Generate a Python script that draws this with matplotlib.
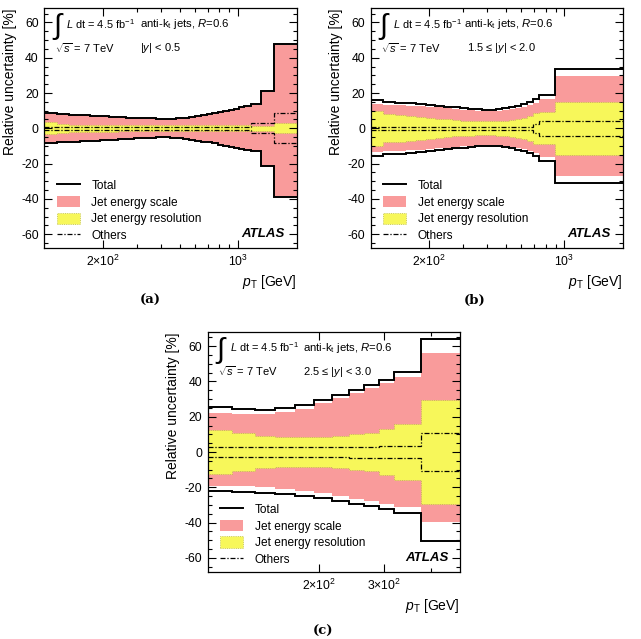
import numpy as np
import matplotlib.pyplot as plt
from matplotlib.ticker import FixedLocator, FixedFormatter, MultipleLocator, NullFormatter
from matplotlib.lines import Line2D
from matplotlib.patches import Patch

plt.rcParams['font.family'] = ['Liberation Sans', 'DejaVu Sans']
plt.rcParams['mathtext.fontset'] = 'custom'
plt.rcParams['mathtext.rm'] = 'Liberation Sans'
plt.rcParams['mathtext.it'] = 'Liberation Sans:italic'
plt.rcParams['mathtext.bf'] = 'Liberation Sans:bold'
plt.rcParams['axes.unicode_minus'] = False

PINK = '#f99b9b'
YELLOW = '#f7f75a'
DASHDOT = (0, (4, 1.5, 1, 1.5))

# ---- panel (a): |y| < 0.5 ----
edges_a = [100, 116, 134, 152, 172, 194, 216, 240, 264, 290, 318, 346, 376, 408, 442, 478,
           516, 556, 598, 642, 688, 736, 786, 838, 894, 952, 1012, 1076, 1162, 1310, 1530, 2000]
tot_up_a = [8.8, 8.2, 7.8, 7.5, 7.2, 6.9, 6.6, 6.3, 6.1, 5.9, 5.7, 5.6, 5.5, 5.5, 5.5, 5.7,
            6.0, 6.5, 7.0, 7.6, 8.2, 8.8, 9.4, 10.0, 10.6, 11.2, 11.8, 12.6, 13.6, 21.0, 47.5]
tot_dn_a = [-8.6, -8.0, -7.6, -7.3, -7.0, -6.7, -6.4, -6.1, -5.8, -5.6, -5.4, -5.3, -5.2, -5.2, -5.3, -5.6,
            -6.0, -6.5, -7.0, -7.5, -8.0, -8.6, -9.2, -9.8, -10.4, -11.0, -11.6, -12.3, -12.8, -21.5, -39.0]
jes_up_a = [8.5, 7.9, 7.6, 7.3, 7.0, 6.7, 6.4, 6.1, 5.9, 5.7, 5.5, 5.4, 5.3, 5.3, 5.3, 5.5,
            5.8, 6.3, 6.8, 7.4, 8.0, 8.6, 9.2, 9.8, 10.4, 11.0, 11.6, 12.4, 13.4, 20.8, 47.0]
jes_dn_a = [-8.3, -7.8, -7.4, -7.1, -6.8, -6.5, -6.2, -5.9, -5.6, -5.4, -5.2, -5.1, -5.0, -5.0, -5.1, -5.4,
            -5.8, -6.3, -6.8, -7.3, -7.8, -8.4, -9.0, -9.6, -10.2, -10.8, -11.4, -12.1, -12.6, -21.3, -38.5]
jer_a = [3.3, 2.4, 2.1, 2.0, 2.0, 1.9, 1.9, 1.8, 1.8, 1.8, 1.8, 1.8, 1.8, 1.8, 1.8, 1.8,
         1.8, 1.8, 1.8, 1.8, 1.8, 1.8, 1.8, 1.8, 1.8, 1.8, 1.8, 1.8, 1.3, 1.3, 2.8]
oth_up_a = [0.7] * 28 + [2.8, 2.8, 8.6]
oth_dn_a = [-0.7] * 28 + [-2.6, -2.6, -8.5]

# ---- panel (b): 1.5 <= |y| < 2.0 ----
edges_b = [100, 116, 134, 152, 172, 194, 216, 240, 264, 290, 318, 346, 376, 408, 442, 478,
           516, 556, 598, 642, 688, 736, 894, 2000]
tot_up_b = [16.0, 15.0, 14.6, 14.2, 13.8, 13.3, 12.8, 12.3, 11.8, 11.4, 11.0, 10.7, 10.6, 10.6, 10.8, 11.3,
            12.0, 12.8, 13.6, 14.8, 16.4, 18.8, 33.8]
tot_dn_b = [-15.5, -14.8, -14.3, -13.8, -13.3, -12.8, -12.3, -11.8, -11.3, -10.9, -10.5, -10.2, -10.0, -10.0, -10.2, -10.7,
            -11.4, -12.2, -13.0, -14.2, -15.8, -18.7, -31.0]
jes_up_b = [13.5, 13.2, 13.0, 12.8, 12.5, 12.2, 11.8, 11.4, 11.0, 10.6, 10.2, 9.9, 9.8, 9.8, 10.0, 10.4,
            11.0, 11.6, 12.2, 13.2, 14.5, 16.5, 29.8]
jes_dn_b = [-13.3, -13.0, -12.7, -12.4, -12.1, -11.8, -11.4, -11.0, -10.6, -10.2, -9.8, -9.5, -9.3, -9.3, -9.5, -9.9,
            -10.5, -11.1, -11.8, -12.8, -14.2, -16.3, -26.8]
jer_b = [9.8, 8.0, 7.5, 7.0, 6.5, 6.0, 5.5, 5.0, 4.6, 4.3, 4.1, 4.0, 4.0, 4.0, 4.1, 4.4,
         4.8, 5.3, 6.0, 7.0, 8.8, 9.0, 15.0]
oth_up_b = [0.8] * 20 + [2.5, 4.2, 4.4]
oth_dn_b = [-0.8] * 20 + [-2.5, -4.2, -4.5]

# ---- panel (c): 2.5 <= |y| < 3.0 ----
edges_c = [100, 116, 134, 152, 172, 194, 216, 240, 264, 290, 318, 376, 480]
tot_up_c = [25.4, 24.5, 23.9, 24.8, 26.8, 29.2, 32.1, 35.3, 38.2, 41.0, 45.3, 64.0]
tot_dn_c = [-22.0, -22.6, -23.2, -23.9, -24.9, -25.8, -27.7, -29.3, -30.6, -32.5, -34.8, -50.3]
jes_up_c = [22.0, 21.8, 21.5, 22.5, 24.5, 27.5, 30.5, 33.5, 36.5, 39.0, 42.5, 56.0]
jes_dn_c = [-19.0, -19.5, -20.0, -21.0, -22.0, -23.5, -25.0, -26.5, -28.0, -29.5, -31.0, -39.5]
jer_c = [12.3, 11.0, 9.3, 8.5, 8.3, 8.7, 9.3, 10.0, 10.8, 13.0, 16.0, 29.5]
oth_up_c = [2.6, 2.6, 2.6, 2.6, 2.7, 2.8, 2.9, 3.0, 3.1, 3.3, 3.6, 10.5]
oth_dn_c = [-2.9, -2.9, -2.9, -2.9, -3.0, -3.0, -3.1, -3.2, -3.3, -3.4, -3.6, -10.5]

rap_labels = [r'$|y|$ < 0.5', r'1.5 ≤ $|y|$ < 2.0', r'2.5 ≤ $|y|$ < 3.0']


def draw_panel(ax, edges, tot_up, tot_dn, jes_up, jes_dn, jer, oth_up, oth_dn,
               rap, xmax, major, major_labels, minor, txt_x, rap_x):
    edges = np.array(edges, float)
    jer = np.array(jer)
    ax.stairs(jes_up, edges, baseline=jes_dn, fill=True, facecolor=PINK, edgecolor='none', lw=0)
    ax.stairs(jer, edges, baseline=-jer, fill=True, facecolor=YELLOW,
              edgecolor='#b9b94a', lw=0.6, ls=':')
    ax.stairs(oth_up, edges, baseline=None, color='k', lw=0.9, ls=DASHDOT)
    ax.stairs(oth_dn, edges, baseline=None, color='k', lw=0.9, ls=DASHDOT)
    ax.stairs(tot_up, edges, baseline=None, color='k', lw=1.4)
    ax.stairs(tot_dn, edges, baseline=None, color='k', lw=1.4)

    ax.set_xscale('log')
    ax.set_xlim(100, xmax)
    ax.set_ylim(-68, 68)
    ax.xaxis.set_major_locator(FixedLocator(major))
    ax.xaxis.set_major_formatter(FixedFormatter(major_labels))
    ax.xaxis.set_minor_locator(FixedLocator(minor))
    ax.xaxis.set_minor_formatter(NullFormatter())
    ax.yaxis.set_major_locator(MultipleLocator(20))
    ax.yaxis.set_minor_locator(MultipleLocator(5))
    ax.tick_params(which='both', direction='in', top=True, right=True, labelsize=8.8, width=0.8)
    ax.tick_params(which='major', length=5.5, pad=4)
    ax.tick_params(which='minor', length=2.8)
    for s in ax.spines.values():
        s.set_linewidth(0.9)

    ax.set_ylabel('Relative uncertainty [%]', loc='top', fontsize=10, labelpad=3)
    ax.set_xlabel(r'$p_{\rm T}$ [GeV]', loc='right', fontsize=10, labelpad=3)

    ax.text(0.055, 0.925, r'$\int$', transform=ax.transAxes, fontsize=21, ha='center', va='center')
    ax.text(0.087, 0.935, r'$L$ dt = 4.5 fb$^{-1}$', transform=ax.transAxes,
            fontsize=7.9, ha='left', va='center')
    ax.text(txt_x, 0.935, r'anti-k$_{\rm t}$ jets, $R$=0.6', transform=ax.transAxes,
            fontsize=8.2, ha='left', va='center')
    ax.text(0.042, 0.835, r'$\sqrt{s}$ = 7 TeV', transform=ax.transAxes,
            fontsize=8.0, ha='left', va='center')
    ax.text(rap_x, 0.835, rap, transform=ax.transAxes, fontsize=8.0, ha='left', va='center')
    ax.text(0.954, 0.058, 'ATLAS', transform=ax.transAxes, fontsize=9.5,
            fontweight='bold', fontstyle='italic', ha='right', va='center')

    handles = [Line2D([], [], color='k', lw=1.4),
               Patch(facecolor=PINK, edgecolor='none'),
               Patch(facecolor=YELLOW, edgecolor='#b9b94a', lw=0.6, ls=':'),
               Line2D([], [], color='k', lw=0.9, ls=DASHDOT)]
    names = ['Total', 'Jet energy scale', 'Jet energy resolution', 'Others']
    ax.legend(handles, names, loc='lower left', bbox_to_anchor=(0.049, 0.026),
              frameon=False, fontsize=8.6, handlelength=1.95, handleheight=1.1,
              handletextpad=0.95, labelspacing=0.32, borderpad=0, borderaxespad=0)


fig = plt.figure(figsize=(6.41, 6.39), dpi=100)
W, H = 641.0, 639.0
ax_a = fig.add_axes([44.3 / W, 1 - 248.3 / H, 252.4 / W, 240 / H])
ax_b = fig.add_axes([370.7 / W, 1 - 248.3 / H, 252.0 / W, 240 / H])
ax_c = fig.add_axes([207.7 / W, 1 - 572 / H, 252.3 / W, 240 / H])

minor_ab = [300, 400, 500, 600, 700, 800, 900]
draw_panel(ax_a, edges_a, tot_up_a, tot_dn_a, jes_up_a, jes_dn_a, jer_a, oth_up_a, oth_dn_a,
           rap_labels[0], 2000, [200, 1000], [r'$2{\times}10^{2}$', r'$10^{3}$'], minor_ab,
           0.379, 0.379)
draw_panel(ax_b, edges_b, tot_up_b, tot_dn_b, jes_up_b, jes_dn_b, jer_b, oth_up_b, oth_dn_b,
           rap_labels[1], 2000, [200, 1000], [r'$2{\times}10^{2}$', r'$10^{3}$'], minor_ab,
           0.372, 0.381)
draw_panel(ax_c, edges_c, tot_up_c, tot_dn_c, jes_up_c, jes_dn_c, jer_c, oth_up_c, oth_dn_c,
           rap_labels[2], 480, [200, 300], [r'$2{\times}10^{2}$', r'$3{\times}10^{2}$'], [400],
           0.379, 0.376)

for x, y, s in [(150, 300, '(a)'), (475, 300, '(b)'), (323, 631.5, '(c)')]:
    fig.text(x / W, 1 - y / H, s, ha='center', va='center', fontsize=9.5,
             family='DejaVu Serif', fontweight='bold')

fig.savefig('out.png', dpi=100)
